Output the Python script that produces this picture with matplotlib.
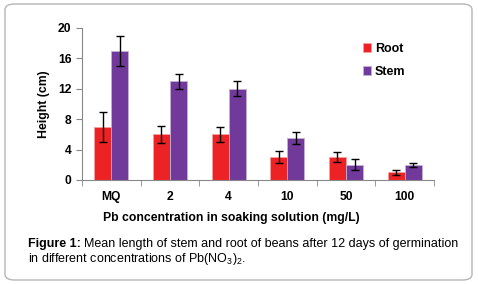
import matplotlib
matplotlib.use("Agg")
import matplotlib.pyplot as plt
import numpy as np
from matplotlib.patches import FancyBboxPatch

categories = ["MQ", "2", "4", "10", "50", "100"]
root = [7, 6, 6, 3, 3, 1]
root_err = [2, 1.1, 1, 0.8, 0.65, 0.3]
stem = [17, 13, 12, 5.5, 2, 2]
stem_err = [2, 1, 1, 0.8, 0.7, 0.3]
y_ticks = [0, 4, 8, 12, 16, 20]

plt.rcParams["font.family"] = ["Liberation Sans", "DejaVu Sans"]
plt.rcParams["mathtext.fontset"] = "custom"
plt.rcParams["mathtext.rm"] = "Liberation Sans"

fig = plt.figure(figsize=(4.78, 2.84), dpi=100)

# rounded frame around the whole figure
frame = FancyBboxPatch(
    (5 / 478, 4 / 284), 467 / 478, 276 / 284,
    boxstyle="round,pad=0,rounding_size=0.02",
    transform=fig.transFigure,
    facecolor="white", edgecolor="#b5b5b5", linewidth=1.0, zorder=-5,
)
fig.patches.append(frame)

ax = fig.add_axes([82 / 478, 1 - 180 / 284, 352 / 478, 152 / 284])
ax.patch.set_alpha(0)

x = np.arange(len(categories))
width = 0.29

ax.bar(x - width / 2, root, width, color="#ed2224",
       edgecolor="#f4a0a0", linewidth=0.6, label="Root")
ax.bar(x + width / 2, stem, width, color="#70399a",
       edgecolor="#c3b0d6", linewidth=0.6, label="Stem")

ax.errorbar(x - width / 2, root, yerr=root_err, fmt="none",
            ecolor="black", elinewidth=1, capsize=3, capthick=1)
ax.errorbar(x + width / 2, stem, yerr=stem_err, fmt="none",
            ecolor="black", elinewidth=1, capsize=3, capthick=1)

ax.set_xlim(-0.5, len(categories) - 0.5)
ax.set_ylim(0, 20)
ax.set_yticks(y_ticks)
ax.set_xticks(x)
ax.set_xticklabels(categories, fontweight="bold", fontsize=8.7)
ax.set_xticks(np.arange(len(categories) + 1) - 0.5, minor=True)
ax.tick_params(axis="x", which="major", length=0, pad=8)
ax.tick_params(axis="x", which="minor", length=4, color="#888888",
               direction="out")
ax.tick_params(axis="y", length=4, color="#888888", labelsize=8.7)
for label in ax.get_yticklabels():
    label.set_fontweight("bold")

for side in ["top", "right"]:
    ax.spines[side].set_visible(False)
for side in ["left", "bottom"]:
    ax.spines[side].set_color("#888888")

ax.set_ylabel("Height (cm)", fontweight="bold", fontsize=8.8, labelpad=6)
fig.text(231 / 478, 1 - 218 / 284,
         "Pb concentration in soaking solution (mg/L)",
         fontweight="bold", fontsize=8.8, ha="center", va="center")

ax.legend(loc="upper left", bbox_to_anchor=(0.765, 0.975), frameon=False,
          handlelength=0.7, handleheight=0.7, handletextpad=0.3,
          labelspacing=0.85, prop={"weight": "bold", "size": 9})

head = fig.text(28 / 478, 1 - 247 / 284, "Figure 1:", fontweight="bold",
                fontsize=9, va="baseline")
ax.annotate(
    "Mean length of stem and root of beans after 12 days of germination",
    xy=(1, 0), xycoords=head, xytext=(2.5, 0), textcoords="offset points",
    va="bottom", ha="left", fontsize=9, annotation_clip=False,
)
fig.text(28 / 478, 1 - 262 / 284,
         r"in different concentrations of Pb(NO$_3$)$_2$.",
         fontsize=9, va="baseline")

fig.savefig("out.png", dpi=100)
